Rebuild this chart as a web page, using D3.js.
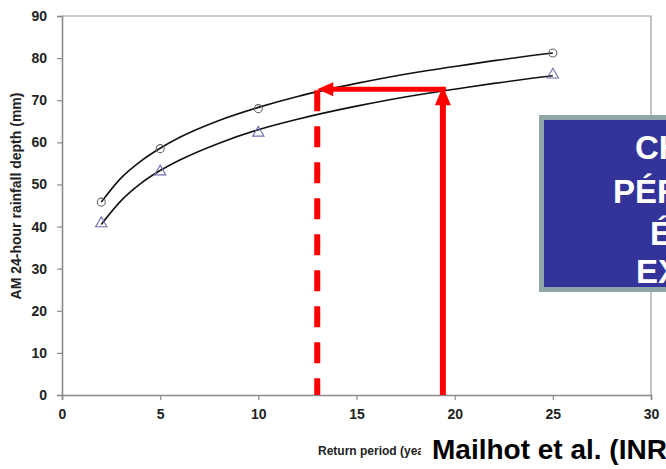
<!DOCTYPE html>
<html><head><meta charset="utf-8">
<script src="https://cdn.jsdelivr.net/npm/d3@7/dist/d3.min.js"></script>
<style>
html,body{margin:0;padding:0;background:#fff;overflow:hidden;}
svg{display:block;font-family:"Liberation Sans",Arial,sans-serif;}
</style></head>
<body>
<svg id="c" width="666" height="469"></svg>
<script>
// ---- data ----
const xTicks = [0, 5, 10, 15, 20, 25, 30];
const yTicks = [0, 10, 20, 30, 40, 50, 60, 70, 80, 90];
const periods = [2, 5, 10, 25];
const circleValues = [45.8, 58.5, 68.0, 81.2];
const triangleValues = [40.5, 52.8, 62.0, 75.8];
const curvePeriods = [2, 3, 4, 5, 6, 8, 10, 12, 15, 18, 20, 22, 25];
const upperCurve = [45.8, 51.5, 55.5, 58.6, 61.2, 65.2, 68.3, 70.9, 74.0, 76.6, 78.0, 79.4, 81.2];
const lowerCurve = [40.5, 46.1, 50.2, 53.3, 55.8, 59.8, 63.0, 65.5, 68.6, 71.2, 72.6, 74.0, 75.8];
const arrowFromPeriod = 19.4;
const arrowToPeriod = 13.0;
const arrowDepth = 72.6;
const boxLines = ["CHANGEMENTS", "PÉRIODES DE RETOUR", "ÉVÉNEMENTS", "EXTRÊMES"];
const xTitle = "Return period (years)";
const yTitle = "AM 24-hour rainfall depth (mm)";
const credit = "Mailhot et al. (INRS-ETE)";

// ---- layout ----
const svg = d3.select("#c");
const x = d3.scaleLinear().domain([0, 30]).range([62, 651]);
const y = d3.scaleLinear().domain([0, 90]).range([395, 16]);
const axisCol = "#8a8a8a";

// frame (top & right)
svg.append("path")
  .attr("d", `M${x(0)},${y(90)}H${x(30)}V${y(0)}`)
  .attr("fill", "none").attr("stroke", "#9a9a9a").attr("stroke-width", 1.2);

// axes
const xAxis = svg.append("g").attr("transform", `translate(0,${y(0)})`)
  .call(d3.axisBottom(x).tickValues(xTicks).tickSize(5).tickPadding(9));
const yAxis = svg.append("g").attr("transform", `translate(${x(0)},0)`)
  .call(d3.axisLeft(y).tickValues(yTicks).tickSize(5).tickPadding(10));
[xAxis, yAxis].forEach(g => {
  g.select(".domain").attr("stroke", axisCol).attr("stroke-width", 1.6);
  g.selectAll(".tick line").attr("stroke", axisCol).attr("stroke-width", 1.2);
  g.selectAll(".tick text").attr("fill", "#222").attr("font-size", 14)
    .attr("font-weight", "bold").attr("font-family", "Liberation Sans, Arial, sans-serif");
});

// axis titles
svg.append("text").attr("x", 318).attr("y", 455)
  .attr("font-size", 12).attr("font-weight", "bold").attr("fill", "#222")
  .text(xTitle);
svg.append("text").attr("transform", `translate(21,${196}) rotate(-90)`)
  .attr("text-anchor", "middle").attr("font-size", 14).attr("font-weight", "bold").attr("fill", "#222")
  .text(yTitle);

// fitted curves
const line = d3.line().x(d => x(d[0])).y(d => y(d[1])).curve(d3.curveMonotoneX);
[upperCurve, lowerCurve].forEach(vals => {
  svg.append("path")
    .datum(curvePeriods.map((p, i) => [p, vals[i]]))
    .attr("d", line).attr("fill", "none").attr("stroke", "#111").attr("stroke-width", 1.6);
});

// markers
svg.append("g").selectAll("circle").data(periods.map((p, i) => [p, circleValues[i]]))
  .join("circle").attr("cx", d => x(d[0])).attr("cy", d => y(d[1])).attr("r", 4)
  .attr("fill", "none").attr("stroke", "#666").attr("stroke-width", 1.1);
svg.append("g").selectAll("path").data(periods.map((p, i) => [p, triangleValues[i]]))
  .join("path").attr("transform", d => `translate(${x(d[0])},${y(d[1]) - 1})`)
  .attr("d", d3.symbol(d3.symbolTriangle, 55)())
  .attr("fill", "none").attr("stroke", "#6f6fb0").attr("stroke-width", 1.1);

// red arrows
const red = "#ff0000";
const xa = x(arrowFromPeriod), xb = x(arrowToPeriod), ya = y(arrowDepth);
// solid vertical
svg.append("line").attr("x1", xa).attr("x2", xa).attr("y1", y(0)).attr("y2", ya + 14)
  .attr("stroke", red).attr("stroke-width", 6);
svg.append("path").attr("d", `M${xa},${ya - 3}L${xa - 8},${ya + 16}L${xa + 8},${ya + 16}Z`).attr("fill", red);
// horizontal
svg.append("line").attr("x1", xa + 3).attr("x2", xb + 12).attr("y1", ya).attr("y2", ya)
  .attr("stroke", red).attr("stroke-width", 5);
svg.append("path").attr("d", `M${xb},${ya}L${xb + 16},${ya - 7}L${xb + 16},${ya + 7}Z`).attr("fill", red);
// dashed vertical
svg.append("line").attr("x1", xb).attr("x2", xb).attr("y1", ya + 1).attr("y2", y(0))
  .attr("stroke", red).attr("stroke-width", 6).attr("stroke-dasharray", "21,15");

// blue box
svg.append("rect").attr("x", 541.5).attr("y", 117.5).attr("width", 200).attr("height", 172)
  .attr("fill", "#333399").attr("stroke", "#8ea6a6").attr("stroke-width", 5);
const boxX = [635, 613, 650, 636];
const boxY = [159, 203, 245, 283];
boxLines.forEach((t, i) => {
  svg.append("text").attr("x", boxX[i]).attr("y", boxY[i])
    .attr("font-size", 33).attr("font-weight", "bold").attr("fill", "#fff").text(t);
});

// credit
svg.append("rect").attr("x", 421).attr("y", 430).attr("width", 245).attr("height", 39).attr("fill", "#fff");
svg.append("text").attr("x", 432).attr("y", 459)
  .attr("font-size", 28).attr("font-weight", "bold").attr("fill", "#000").text(credit);
</script>
</body></html>
